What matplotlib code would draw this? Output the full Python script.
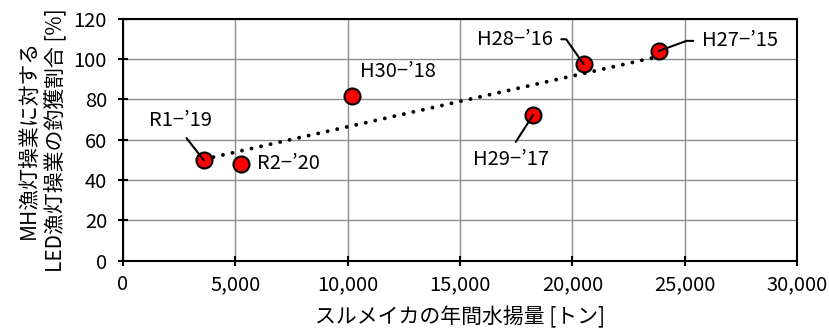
import numpy as np
import matplotlib
matplotlib.use("Agg")
import matplotlib.pyplot as plt

plt.rcParams['font.family'] = ['Noto Sans CJK JP', 'DejaVu Sans']
plt.rcParams['axes.unicode_minus'] = False

# 年度ラベルと値
labels = ["R1−’19", "R2−’20", "H30−’18", "H29−’17", "H28−’16", "H27−’15"]
catch_t = [3600, 5250, 10200, 18250, 20500, 23850]   # スルメイカの年間水揚量 [トン]
ratio_pct = [49.8, 48.0, 81.5, 72.2, 97.5, 104.0]     # 釣獲割合 [%]

xticks = [0, 5000, 10000, 15000, 20000, 25000, 30000]
yticks = [0, 20, 40, 60, 80, 100, 120]

# ラベルの置き場所 (text x, text y, ha, va, relpos, connection)
label_pos = [
    (2580, 69.5, 'center', 'center', (0.5, 0.0), 'arc3'),
    (5950, 48.0, 'left', 'center', None, None),
    (10550, 94.0, 'left', 'center', None, None),
    (17270, 50.0, 'center', 'center', (0.5, 1.0), 'arc3'),
    (17450, 109.8, 'center', 'center', (1.0, 0.5), 'angle,angleA=0,angleB=125,rad=0'),
    (27450, 109.0, 'center', 'center', (0.0, 0.5), 'angle,angleA=0,angleB=20,rad=0'),
]

FS = 14.5

fig = plt.figure(figsize=(8.3, 3.28), dpi=100)
ax = fig.add_axes([123 / 830, 67.3 / 328, 674 / 830, 242 / 328])

# 近似直線
a, b = np.polyfit(catch_t, ratio_pct, 1)
xs = np.array([min(catch_t), max(catch_t)])
ax.plot(xs, a * xs + b, color='black', linewidth=2.8,
        linestyle=(0, (0.01, 2.5)), dash_capstyle='round', zorder=3)

ax.plot(catch_t, ratio_pct, 'o', markersize=11.5, markerfacecolor='#ff0000',
        markeredgecolor='black', markeredgewidth=1.5, zorder=4)

for lab, x, y, (tx, ty, ha, va, rp, cs) in zip(labels, catch_t, ratio_pct, label_pos):
    if rp is None:
        ax.text(tx, ty, lab, ha=ha, va=va, fontsize=FS, zorder=5)
    else:
        ax.annotate(lab, xy=(x, y), xytext=(tx, ty), ha=ha, va=va, fontsize=FS,
                    arrowprops=dict(arrowstyle='-', color='black', lw=1.5,
                                    relpos=rp, connectionstyle=cs,
                                    shrinkA=4, shrinkB=0),
                    zorder=5)

ax.set_xlim(0, 30000)
ax.set_ylim(0, 120)
ax.set_xticks(xticks)
ax.set_yticks(yticks)
ax.set_xticklabels([f"{v:,}" for v in xticks])
ax.grid(True, color='#8c8c8c', linewidth=1.0)
ax.set_axisbelow(True)
for s in ax.spines.values():
    s.set_linewidth(1.5)
    s.set_color('black')
ax.tick_params(direction='inout', length=7, width=1.5, labelsize=FS)
ax.tick_params(axis='y', pad=8)
ax.tick_params(axis='x', pad=6)

ax.set_xlabel("スルメイカの年間水揚量 [トン]", fontsize=15, labelpad=8)
ax.set_ylabel("MH漁灯操業に対する\nLED漁灯操業の釣獲割合 [%]", fontsize=15,
              labelpad=5, linespacing=1.25)

fig.savefig("out.png", dpi=100)
